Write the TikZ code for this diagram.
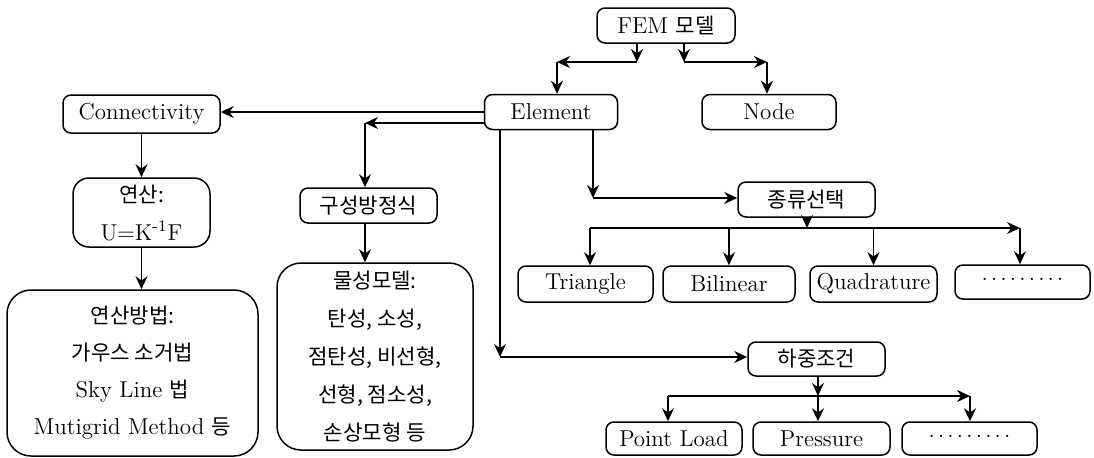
\documentclass[tikz,border=0pt]{standalone}
\usepackage{fontspec}
\newfontfamily\kr[Scale=0.92]{Noto Sans CJK KR}
\usetikzlibrary{arrows.meta}
\newcommand\onedot{\raisebox{2.2pt}{.}\kern1.6pt}
\newcommand\dotrow{\onedot\onedot\onedot\onedot\onedot\onedot\onedot\onedot\raisebox{2.2pt}{.}}
\tikzset{
    box/.style={draw, line width=0.75pt, rounded corners=4pt, inner sep=0pt,
        minimum height=17.5pt, font=\fontsize{11.5}{14}\selectfont},
    bigbox/.style={draw, line width=0.75pt, rounded corners=12pt, inner sep=0pt, align=center},
    arr/.style={-{Stealth[length=6.5pt, width=6pt]}, line width=0.75pt}
}

\begin{document}
\begin{tikzpicture}[x=0.5pt, y=-0.5pt]
    \useasboundingbox (0,0) rectangle (1094,457);

    % Top level
    \node[box, minimum width=69pt] (fem) at (666,25.5) {FEM {\kr 모델}};
    \node[box, minimum width=66.5pt] (elem) at (551,112) {Element};
    \node[box, minimum width=67pt] (node) at (769,112) {Node};

    % Left branch
    \node[box, minimum width=78.5pt, minimum height=19pt] (conn) at (141.5,114) {Connectivity};
    \node[box, rounded corners=8pt, minimum width=68.5pt, minimum height=34.5pt,
          align=center, font=\fontsize{11.5}{19}\selectfont]
        (calc) at (141.5,212.5) {{\kr 연산:}\\U=K\textsuperscript{-1}F};
    \node[bigbox, minimum width=125.5pt, minimum height=83pt, font=\fontsize{11.5}{18.5}\selectfont]
        (method) at (132.5,373) {{\kr 연산방법:}\\{\kr 가우스 소거법}\\Sky Line {\kr 법}\\Mutigrid Method {\kr 등}};

    % Material branch
    \node[box, minimum width=68.5pt] (const) at (368.5,205.5) {\kr 구성방정식};
    \node[bigbox, minimum width=98pt, minimum height=93.5pt, font=\kr\fontsize{11.5}{19}\selectfont]
        (mat) at (375,356.5) {물성모델:\\탄성, 소성,\\점탄성, 비선형,\\선형, 점소성,\\손상모형 등};

    % Element types
    \node[box, minimum width=68.5pt] (kind) at (806.5,199.5) {\kr 종류선택};
    \node[box, minimum width=67.5pt, minimum height=18pt] (tri) at (585.5,284) {Triangle};
    \node[box, minimum width=66pt, minimum height=18pt] (bil) at (729,284) {Bilinear};
    \node[box, minimum width=63.5pt, minimum height=18pt] (quad) at (873.5,284) {Quadrature};
    \node[box, minimum width=67.5pt, minimum height=17pt] (dotsa) at (1022.5,282) {\dotrow};

    % Load conditions
    \node[box, minimum width=68.5pt, minimum height=17pt] (load) at (816.5,359) {\kr 하중조건};
    \node[box, minimum width=68pt, minimum height=16.5pt] (pl) at (674,438.5) {Point Load};
    \node[box, minimum width=68.5pt, minimum height=16.5pt] (pres) at (821.5,438.5) {Pressure};
    \node[box, minimum width=67.5pt, minimum height=16.5pt] (dotsb) at (969.5,438.5) {\dotrow};

    % Corner points
    \coordinate (a1) at (637,62);
    \coordinate (a2) at (557,62);
    \coordinate (b1) at (684,62);
    \coordinate (b2) at (767,62);
    \coordinate (c1) at (365,123);
    \coordinate (d1) at (593,198);
    \coordinate (e1) at (500,357);
    \coordinate (f0) at (590,228);
    \coordinate (f1) at (807,228);
    \coordinate (f2) at (1020,228);
    \coordinate (g0) at (668,396);
    \coordinate (g1) at (818,396);
    \coordinate (g2) at (970,396);

    % FEM to Element / Node
    \draw[arr] (fem.south -| a1) -- (a1);
    \draw[arr] (a1) -- (a2);
    \draw[arr] (a2) -- (elem.north -| a2);
    \draw[arr] (fem.south -| b1) -- (b1);
    \draw[arr] (b1) -- (b2);
    \draw[arr] (b2) -- (node.north -| b2);

    % Element to the left
    \draw[arr] (elem.west) -- (conn.east |- elem.west);
    \draw[arr] (elem.west |- c1) -- (c1);
    \draw[arr] (c1) -- (const.north -| c1);
    \draw[arr] (conn) -- (calc);
    \draw[arr] (calc.south) -- (method.north -| calc.south);
    \draw[arr] (const.south -| c1) -- (mat.north -| c1);

    % Element downwards
    \draw[arr] (elem.south -| d1) -- (d1);
    \draw[arr] (d1) -- (kind.west |- d1);
    \draw[arr] (elem.south -| e1) -- (e1);
    \draw[arr] (e1) -- (load.west |- e1);

    % Types
    \draw[arr] (kind.south -| f1) -- (f1);
    \draw[arr] (f0) -- (f2);
    \draw[arr] (f0) -- (tri.north -| f0);
    \foreach \n in {bil, quad}
        \draw[arr] (\n.north |- f0) -- (\n.north);
    \draw[arr] (f2) -- (dotsa.north -| f2);

    % Loads
    \draw[arr] (load.south -| g1) -- (g1);
    \draw[arr] (g0) -- (g2);
    \draw[arr] (g0) -- (pl.north -| g0);
    \draw[arr] (g1) -- (pres.north -| g1);
    \draw[arr] (g2) -- (dotsb.north -| g2);
\end{tikzpicture}
\end{document}
